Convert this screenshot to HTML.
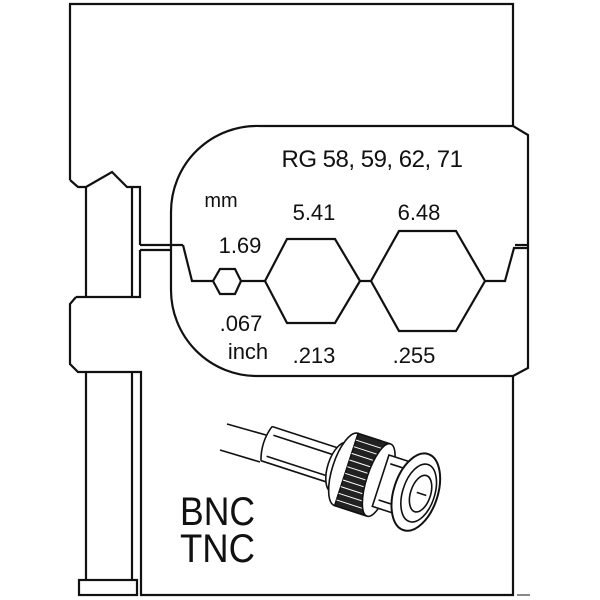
<!DOCTYPE html>
<html><head><style>body{margin:0;background:#fff}svg{display:block}text{font-family:"Liberation Sans",sans-serif;fill:#111}</style></head><body>
<svg width="600" height="600" viewBox="0 0 600 600" xmlns="http://www.w3.org/2000/svg">
<g fill="none" stroke="#111" stroke-width="2.2" stroke-linejoin="miter">
<path d="M70,180 L70,4 L513,4 L513,126"/>
<path d="M70,180 L78,187 L86,187 L112,172 L127,187 L140,187 L140,245"/>
<path d="M86,187 L86,297 M132,187 L132,297 M76,297 L140,297 L140,250"/>
<path d="M140,245 L183,245 M140,250 L171,250"/>
<path d="M260,126 L513,126 L528,135 L528,368 L513,376 L257,376 A86,86 0 0 1 171,290 L171,212 A86,86 0 0 1 260,126"/>
<path d="M515,245 L528,245"/>
<path d="M183,245 L192,281 L213,281 L220,269 L235,269 L241,281 L235,294 L220,294 L213,281 M241,281 L265,281 L287,239 L335,239 L360,281 L335,323 L287,323 L265,281 M360,281 L371,281 L399,231 L456,231 L485,281 L456,331 L399,331 L371,281 M485,281 L505,281 L514,248 L528,248"/>
<path d="M76,297 L70,304 L70,364 L78,372 L141,372 L141,595 L513,595 L513,376"/>
<path d="M86,372 L86,580 M132,372 L132,580"/>
<rect x="79" y="580" width="58" height="15"/>
<path d="M517,595 L530,595" stroke-width="1"/>
</g>
<text x="372" y="167" font-size="24" text-anchor="middle" letter-spacing="-0.5">RG 58, 59, 62, 71</text>
<text x="221" y="207" font-size="20" text-anchor="middle">mm</text>
<text x="240" y="253" font-size="22" text-anchor="middle">1.69</text>
<text x="314" y="220" font-size="22" text-anchor="middle">5.41</text>
<text x="419" y="220" font-size="22" text-anchor="middle">6.48</text>
<text x="241" y="331" font-size="22" text-anchor="middle">.067</text>
<text x="248" y="359" font-size="22" text-anchor="middle">inch</text>
<text x="314" y="363" font-size="22" text-anchor="middle">.213</text>
<text x="414" y="363" font-size="22" text-anchor="middle">.255</text>
<text x="180" y="525" font-size="40" textLength="75" lengthAdjust="spacingAndGlyphs">BNC</text>
<text x="180" y="562" font-size="40" textLength="75" lengthAdjust="spacingAndGlyphs">TNC</text>
<g fill="none" stroke="#111" stroke-width="1.6">
<path d="M227,424 L266,435 M220,450 L260,462"/>
<g transform="translate(-6,10) rotate(18 360 462)">
<path d="M268,444 L340,444 M268,480 L340,480 M268,444 Q262,462 268,480"/>
<path d="M272,452 L340,452 M272,474 L340,474"/>
<ellipse cx="345" cy="462" rx="12" ry="26" fill="#fff"/>
<ellipse cx="352" cy="462" rx="14" ry="38" fill="#fff"/>
<rect x="352" y="424" width="33" height="76" fill="#222"/>
<g stroke="#fff" stroke-width="1">
<path d="M352,431 L385,431 M352,438 L385,438 M352,445 L385,445 M352,452 L385,452 M352,459 L385,459 M352,466 L385,466 M352,473 L385,473 M352,480 L385,480 M352,487 L385,487 M352,494 L385,494"/>
</g>
<ellipse cx="386" cy="462" rx="12" ry="38" fill="#fff"/>
<rect x="388" y="435" width="32" height="54" fill="#fff"/>
<path d="M392,443 L414,443 L414,481 L392,481"/>
<ellipse cx="425" cy="462" rx="22" ry="40" fill="#fff" stroke-width="2"/>
<ellipse cx="428" cy="462" rx="16" ry="30"/>
<ellipse cx="430" cy="462" rx="10" ry="19"/>
<path d="M426,462 L436,462"/>
</g>
</g>
</svg>
</body></html>
